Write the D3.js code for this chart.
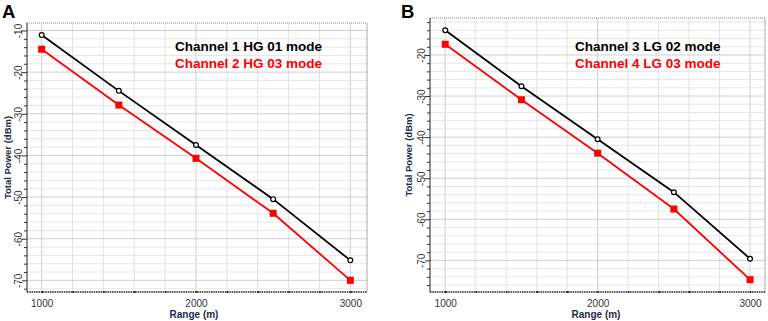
<!DOCTYPE html>
<html>
<head>
<meta charset="utf-8">
<script src="https://cdn.jsdelivr.net/npm/d3@7"></script>
<style>
  body { margin: 0; background: #fff; }
  svg { display: block; font-family: Arial, "Liberation Sans", sans-serif; }
</style>
</head>
<body>
<svg id="chart" width="768" height="321"></svg>
<script>
// range values (m)
const ranges = [1000, 1500, 2000, 2500, 3000];

// panel A
const ch1HG01 = [-11.1, -24.5, -37.5, -50.5, -65.2];
const ch2HG03 = [-14.5, -27.9, -40.7, -53.9, -70.0];
// panel B
const ch3LG02 = [-14.0, -27.6, -40.5, -53.4, -69.6];
const ch4LG03 = [-17.4, -30.9, -43.9, -57.5, -74.7];

const xTickLabels = [1000, 2000, 3000];
const yTickLabelsA = [-10, -20, -30, -40, -50, -60, -70];
const yTickLabelsB = [-20, -30, -40, -50, -60, -70];

const panels = [
  { letter: 'A', left: 27, right: 367, top: 23, bottom: 292, xDom: [905, 3108], yDom: [-72.8, -8.2],
    yTicks: yTickLabelsA, letterX: 2, legendX: 175, titleOff: 16, xTitleShift: -3,
    series: [{ name: 'Channel 1 HG 01 mode', values: ch1HG01, color: '#000' },
             { name: 'Channel 2 HG 03 mode', values: ch2HG03, color: '#ff0000' }] },
  { letter: 'B', left: 430, right: 765, top: 18, bottom: 292, xDom: [900, 3098], yDom: [-77.7, -11],
    yTicks: yTickLabelsB, letterX: 401, legendX: 575, titleOff: 18, xTitleShift: -1.5,
    series: [{ name: 'Channel 3 LG 02 mode', values: ch3LG02, color: '#000' },
             { name: 'Channel 4 LG 03 mode', values: ch4LG03, color: '#ff0000' }] }
];

const svg = d3.select('#chart');

panels.forEach(p => {
  const g = svg.append('g');
  const x = d3.scaleLinear().domain(p.xDom).range([p.left, p.right]);
  const y = d3.scaleLinear().domain(p.yDom).range([p.bottom, p.top]);

  // grid lines
  const xGrid = d3.range(1000, 3001, 200);
  const yGrid = d3.range(Math.ceil(p.yDom[0] / 2) * 2, p.yDom[1], 2);
  g.append('g').selectAll('line').data(xGrid).enter().append('line')
    .attr('x1', d => x(d)).attr('x2', d => x(d))
    .attr('y1', p.top).attr('y2', p.bottom)
    .attr('stroke', d => d % 1000 === 0 ? '#cfcfcf' : '#e2e2e2').attr('stroke-width', 1);
  g.append('g').selectAll('line').data(yGrid).enter().append('line')
    .attr('x1', p.left).attr('x2', p.right)
    .attr('y1', d => y(d)).attr('y2', d => y(d))
    .attr('stroke', d => d % 10 === 0 ? '#cfcfcf' : '#e6e6e6').attr('stroke-width', 1);

  // frame: dotted top, grey right
  g.append('line').attr('x1', p.left).attr('x2', p.right).attr('y1', p.top).attr('y2', p.top)
    .attr('stroke', '#888').attr('stroke-dasharray', '1,1');
  g.append('line').attr('x1', p.right).attr('x2', p.right).attr('y1', p.top).attr('y2', p.bottom)
    .attr('stroke', '#aaa');

  // axes
  const xAxis = d3.axisBottom(x).tickValues(xGrid).tickSize(2)
    .tickFormat(d => xTickLabels.includes(d) ? d : '');
  const gx = g.append('g').attr('transform', `translate(0,${p.bottom})`).call(xAxis);
  gx.select('.domain').attr('stroke', '#222').attr('stroke-dasharray', '1.5,0.8').attr('stroke-width', 1.5)
    .attr('d', `M${p.left},0H${p.right}`);
  gx.selectAll('.tick line').attr('stroke', '#222').attr('stroke-width', 1.5).attr('y1', -1).attr('y2', 1);
  gx.selectAll('.tick text').attr('y', 8).attr('dy', '0.71em')
    .attr('font-size', 10).attr('fill', '#333');

  const yAxis = d3.axisLeft(y).tickValues(yGrid).tickSize(4)
    .tickFormat(d => p.yTicks.includes(d) ? d : '');
  const gy = g.append('g').attr('transform', `translate(${p.left},0)`).call(yAxis);
  gy.select('.domain').attr('stroke', '#222').attr('d', `M0,${p.top}V${p.bottom}`);
  gy.selectAll('.tick line').attr('stroke', '#333').attr('x2', d => d % 10 === 0 ? -5 : -3);
  gy.selectAll('.tick text')
    .attr('x', null).attr('dy', null)
    .attr('text-anchor', 'middle')
    .attr('transform', 'translate(-5,0) rotate(-90)')
    .attr('font-size', 10).attr('fill', '#333');

  // axis titles
  g.append('text').attr('x', (p.left + p.right) / 2 + p.xTitleShift).attr('y', 318)
    .attr('text-anchor', 'middle').attr('font-size', 10).attr('font-weight', 'bold')
    .attr('fill', '#1c2a4a').text('Range (m)');
  g.append('text')
    .attr('transform', `translate(${p.left - p.titleOff},${(p.top + p.bottom) / 2}) rotate(-90)`)
    .attr('text-anchor', 'middle').attr('font-size', 9.5).attr('font-weight', 'bold')
    .attr('fill', '#1c2a4a').text('Total Power (dBm)');

  // lines and markers
  const line = d3.line().x((d, i) => x(ranges[i])).y(d => y(d));
  p.series.forEach((s, si) => {
    g.append('path').datum(s.values).attr('d', line)
      .attr('fill', 'none').attr('stroke', s.color).attr('stroke-width', 1.8);
    if (si === 0) {
      g.append('g').selectAll('circle').data(s.values).enter().append('circle')
        .attr('cx', (d, i) => x(ranges[i])).attr('cy', d => y(d)).attr('r', 2.4)
        .attr('fill', '#fff').attr('stroke', '#000').attr('stroke-width', 1.2);
    } else {
      g.append('g').selectAll('rect').data(s.values).enter().append('rect')
        .attr('x', (d, i) => x(ranges[i]) - 3.5).attr('y', d => y(d) - 3.5)
        .attr('width', 7).attr('height', 7).attr('fill', s.color);
    }
  });

  // legend
  p.series.forEach((s, si) => {
    g.append('text').attr('x', p.legendX).attr('y', 50.5 + si * 17.5)
      .attr('font-size', 13.5).attr('font-weight', 'bold').attr('fill', s.color).text(s.name);
  });

  // panel letter
  g.append('text').attr('x', p.letterX).attr('y', 18)
    .attr('font-size', 18.5).attr('font-weight', 'bold').attr('fill', '#000').text(p.letter);
});
</script>
</body>
</html>
